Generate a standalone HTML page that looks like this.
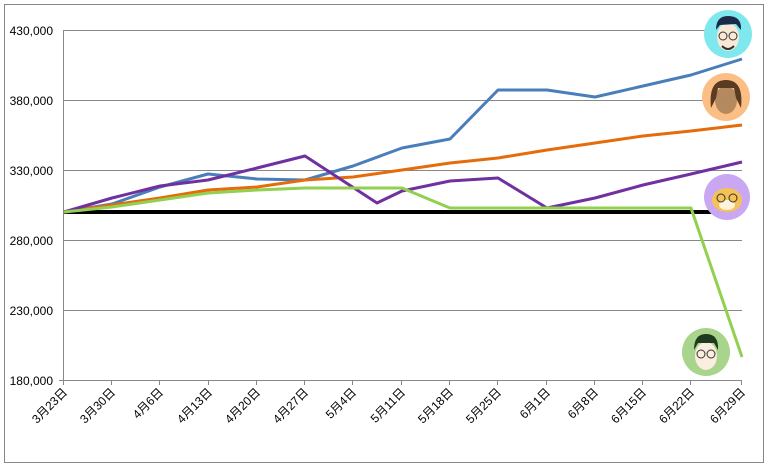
<!DOCTYPE html>
<html><head><meta charset="utf-8"><style>
body{margin:0;background:#fff}
svg{display:block;font-family:"Liberation Sans","Noto Sans CJK JP",sans-serif;font-size:12px}
</style></head><body>
<svg width="768" height="468" viewBox="0 0 768 468">
<rect x="4.5" y="4.5" width="759" height="458" fill="#fff" stroke="#888"/>
<g stroke="#888" stroke-width="1">
<line x1="64" y1="30.5" x2="742" y2="30.5"/><line x1="64" y1="100.5" x2="742" y2="100.5"/>
<line x1="64" y1="170.5" x2="742" y2="170.5"/><line x1="64" y1="240.5" x2="742" y2="240.5"/>
<line x1="64" y1="310.5" x2="742" y2="310.5"/>
<line x1="63.5" y1="30" x2="63.5" y2="381"/><line x1="59" y1="380.5" x2="742" y2="380.5"/>
<g id="t"></g>
</g>
<g stroke="#888">
<line x1="63.5" y1="380" x2="63.5" y2="385"/><line x1="111.5" y1="380" x2="111.5" y2="385"/><line x1="159.5" y1="380" x2="159.5" y2="385"/><line x1="208.5" y1="380" x2="208.5" y2="385"/><line x1="256.5" y1="380" x2="256.5" y2="385"/><line x1="304.5" y1="380" x2="304.5" y2="385"/><line x1="352.5" y1="380" x2="352.5" y2="385"/><line x1="401.5" y1="380" x2="401.5" y2="385"/><line x1="449.5" y1="380" x2="449.5" y2="385"/><line x1="497.5" y1="380" x2="497.5" y2="385"/><line x1="546.5" y1="380" x2="546.5" y2="385"/><line x1="594.5" y1="380" x2="594.5" y2="385"/><line x1="642.5" y1="380" x2="642.5" y2="385"/><line x1="690.5" y1="380" x2="690.5" y2="385"/><line x1="741.5" y1="380" x2="741.5" y2="385"/>
</g>
<g text-anchor="end" fill="#000">
<text x="53" y="35">430,000</text><text x="53" y="105">380,000</text><text x="53" y="175">330,000</text>
<text x="53" y="245">280,000</text><text x="53" y="315">230,000</text><text x="53" y="385">180,000</text>
</g>
<g text-anchor="end" fill="#000">
<text transform="translate(68,393) rotate(-45)">3月23日</text>
<text transform="translate(116,393) rotate(-45)">3月30日</text>
<text transform="translate(164,393) rotate(-45)">4月6日</text>
<text transform="translate(213,393) rotate(-45)">4月13日</text>
<text transform="translate(261,393) rotate(-45)">4月20日</text>
<text transform="translate(309,393) rotate(-45)">4月27日</text>
<text transform="translate(357,393) rotate(-45)">5月4日</text>
<text transform="translate(406,393) rotate(-45)">5月11日</text>
<text transform="translate(454,393) rotate(-45)">5月18日</text>
<text transform="translate(502,393) rotate(-45)">5月25日</text>
<text transform="translate(551,393) rotate(-45)">6月1日</text>
<text transform="translate(599,393) rotate(-45)">6月8日</text>
<text transform="translate(647,393) rotate(-45)">6月15日</text>
<text transform="translate(695,393) rotate(-45)">6月22日</text>
<text transform="translate(746,393) rotate(-45)">6月29日</text>
</g>
<line x1="64" y1="212" x2="742" y2="212" stroke="#000" stroke-width="4"/>
<g fill="none" stroke-width="3" stroke-linejoin="round">
<polyline stroke="#4a7ebb" points="64,212 112,204 160,187 208,174 257,179 305,180 353,166 402,148 450,139 498,90 547,90 595,97 643,86 691,75 742,59"/>
<polyline stroke="#e46c0a" points="64,212 112,205 160,198 208,190 257,187 305,180 353,177 402,170 450,163 498,158 547,150 595,143 643,136 691,131 742,125"/>
<polyline stroke="#7030a0" points="64,212 112,198 160,186 208,180 257,168 305,156 377,203 402,191 450,181 498,178 547,208 595,198 643,185 691,174 742,162"/>
<polyline stroke="#92d050" points="64,212 112,207 160,200 208,193 257,190 305,188 353,188 402,188 450,208 498,208 547,208 595,208 643,208 691,208 742,357"/>
</g>
<g>
<circle cx="728" cy="34" r="24" fill="#7fe8ef"/>
<ellipse cx="728" cy="37" rx="11" ry="14" fill="#fbe9d7"/>
<path d="M716 30 Q716 16 728 16 Q742 16 741 30 L736 24 L720 25Z" fill="#1c2a4a"/>
<path d="M722 46 Q728 52 734 46" stroke="#333" fill="none" stroke-width="2"/>
<circle cx="723" cy="36" r="4" fill="none" stroke="#333"/><circle cx="733" cy="36" r="4" fill="none" stroke="#333"/>
<circle cx="726" cy="97" r="24" fill="#fbbf85"/>
<ellipse cx="726" cy="100" rx="11" ry="14" fill="#b5895e"/>
<path d="M711 108 Q708 80 726 80 Q744 80 741 108 L736 98 L734 88 L718 88 L716 98Z" fill="#5a3a20"/>
<circle cx="727" cy="197" r="23" fill="#c9a7f2"/>
<ellipse cx="727" cy="200" rx="15" ry="12" fill="#f5c255"/>
<ellipse cx="727" cy="205" rx="8" ry="5" fill="#fff4dc"/>
<circle cx="721" cy="198" r="4" fill="none" stroke="#333"/><circle cx="733" cy="198" r="4" fill="none" stroke="#333"/>
<circle cx="706" cy="352" r="24" fill="#a9d48c"/>
<ellipse cx="706" cy="356" rx="11" ry="14" fill="#fbeede"/>
<path d="M694 350 Q694 334 706 334 Q719 334 718 350 L714 343 L698 343Z" fill="#1f3a1f"/>
<circle cx="701" cy="354" r="4" fill="none" stroke="#333"/><circle cx="711" cy="354" r="4" fill="none" stroke="#333"/>
</g>
</svg>
</body></html>
